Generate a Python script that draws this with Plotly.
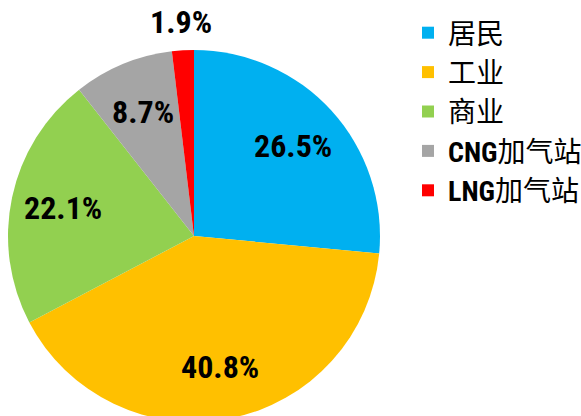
import math
import plotly.graph_objects as go

categories = ["居民", "工业", "商业", "CNG加气站", "LNG加气站"]
values = [26.5, 40.8, 22.1, 8.7, 1.9]
colors = ["#00B0F0", "#FFC000", "#92D050", "#A5A5A5", "#FF0000"]

NARROW = "Liberation Sans Narrow, Roboto Condensed, DejaVu Sans Condensed, Arial Narrow, sans-serif"


def legend_label(name):
    for prefix in ("CNG", "LNG"):
        if name.startswith(prefix):
            return (f"<span style=\"font-family:{NARROW};font-weight:bold\">{prefix}</span>"
                    + name[len(prefix):])
    return name


W, H = 581, 440
cx, cy, r = 194, 236, 186

fig = go.Figure(go.Pie(
    labels=[legend_label(c) for c in categories],
    values=values,
    marker=dict(colors=colors, line=dict(width=0)),
    sort=False,
    direction="clockwise",
    rotation=0,
    textinfo="none",
    domain=dict(x=[(cx - r) / W, (cx + r) / W], y=[1 - (cy + r) / H, 1 - (cy - r) / H]),
    showlegend=True,
    hoverinfo="label+percent",
))

# data labels along each slice's bisector (inside for big slices, outside for the thin one)
total = sum(values)
cum = 0.0
for v in values:
    mid = (cum + v / 2) / total * 2 * math.pi
    cum += v
    frac = 0.72 if v / total > 0.05 else 1.15
    lx = cx + frac * r * math.sin(mid)
    ly = cy - frac * r * math.cos(mid)
    fig.add_annotation(
        x=lx / W, y=1 - ly / H, xref="paper", yref="paper",
        xanchor="center", yanchor="middle",
        text=f"{v}%", showarrow=False,
        font=dict(family=NARROW, size=32, color="black", weight="bold"),
    )

fig.update_layout(
    width=W, height=H,
    margin=dict(l=0, r=0, t=0, b=0, autoexpand=False),
    paper_bgcolor="white",
    plot_bgcolor="white",
    font=dict(family="Noto Sans CJK SC, sans-serif", color="black"),
    legend=dict(
        x=408 / W, y=1 - 8 / H, xanchor="left", yanchor="top",
        font=dict(size=28, family="Noto Sans CJK SC, sans-serif", color="black"),
        bgcolor="rgba(0,0,0,0)",
        itemclick=False,
    ),
)

fig.write_html("out.html", config={"displayModeBar": False},
               post_script="document.body.style.margin='0';document.body.style.overflow='hidden';")
